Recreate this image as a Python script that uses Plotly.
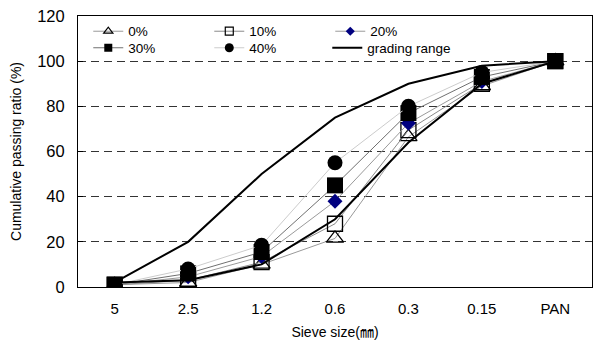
import plotly.graph_objects as go

sieve = ["5", "2.5", "1.2", "0.6", "0.3", "0.15", "PAN"]
s0 = [1, 2, 10, 21.5, 66.5, 89, 100]
s10 = [1, 3, 11, 28, 69.5, 90, 100]
s20 = [1, 4.5, 13.5, 38, 72.5, 91, 100]
s30 = [1, 6, 15.5, 45, 77, 93, 100]
s40 = [1, 8, 18.5, 55, 80, 95, 100]
grade_upper = [2, 20, 50, 75, 90, 98, 100]
grade_lower = [2, 3, 10, 30, 64, 90, 100]

FONT = "Liberation Sans, Arial, Noto Sans CJK KR, sans-serif"

fig = go.Figure()

series = [
    ("0%", s0, "triangle-up-open", 15, 8, "black", 1.3, "#999999", "legend"),
    ("10%", s10, "square-open", 15, 8, "black", 1.3, "#8a8a8a", "legend"),
    ("20%", s20, "diamond", 11.5, 7, "#000080", 0, "#9a9a9a", "legend"),
    ("30%", s30, "square", 16, 8, "black", 0, "#707070", "legend2"),
    ("40%", s40, "circle", 15, 9, "black", 0, "#cccccc", "legend2"),
]
for name, vals, sym, sz, lsz, col, lw, lc, lg in series:
    mk = dict(symbol=sym, size=sz, color=col, line=dict(width=lw, color=col))
    fig.add_trace(go.Scatter(x=sieve, y=vals, name=name, mode="lines+markers",
                             marker=mk, line=dict(color=lc, width=1), showlegend=False))

fig.add_trace(go.Scatter(x=sieve, y=grade_upper, name="grading range", mode="lines",
                         line=dict(color="black", width=2), showlegend=False))
fig.add_trace(go.Scatter(x=sieve, y=grade_lower, name="grading range", mode="lines",
                         line=dict(color="black", width=2), showlegend=False))

# legend entries (small symbols, like the reference legend)
for name, vals, sym, sz, lsz, col, lw, lc, lg in series:
    mk = dict(symbol=sym, size=lsz, color=col, line=dict(width=min(lw, 1.2), color=col))
    fig.add_trace(go.Scatter(x=[None], y=[None], name=name, mode="lines+markers",
                             marker=mk, line=dict(color=lc, width=1), legend=lg))
fig.add_trace(go.Scatter(x=[None], y=[None], name="grading range", mode="lines",
                         line=dict(color="black", width=2), legend="legend3"))

leg_common = dict(orientation="h", xanchor="left", yanchor="middle", bgcolor="rgba(0,0,0,0)",
                  font=dict(family=FONT, size=13.5, color="black"),
                  entrywidthmode="pixels", itemwidth=30, tracegroupgap=0)

fig.update_layout(
    width=593, height=347,
    margin=dict(l=78, r=1, t=16, b=60),
    paper_bgcolor="white", plot_bgcolor="white",
    font=dict(family=FONT, size=14, color="black"),
    legend=dict(x=0.02, y=0.943, entrywidth=76, **leg_common),
    legend2=dict(x=0.02, y=0.882, entrywidth=76, **leg_common),
    legend3=dict(x=0.02 + 239 / 514, y=0.882, entrywidth=0, **leg_common),
    xaxis=dict(type="category", range=[-0.5, 6.5], showline=True, linecolor="black",
               linewidth=1, mirror=True, ticks="", showgrid=False,
               tickfont=dict(size=15), ticklabelstandoff=8,
               title=dict(text="Sieve size(㎜)", font=dict(size=14), standoff=11)),
    yaxis=dict(range=[0, 120], dtick=20, showline=True, linecolor="black", linewidth=1,
               mirror=True, ticks="inside", ticklen=5, tickcolor="black",
               showgrid=True, gridcolor="#333333", griddash="8px,5px", gridwidth=1,
               tickfont=dict(size=16.5), ticklabelstandoff=9, zeroline=False,
               title=dict(text="Cumulative passing ratio (%)", font=dict(size=14), standoff=12)),
)

fig.write_html("out.html")
